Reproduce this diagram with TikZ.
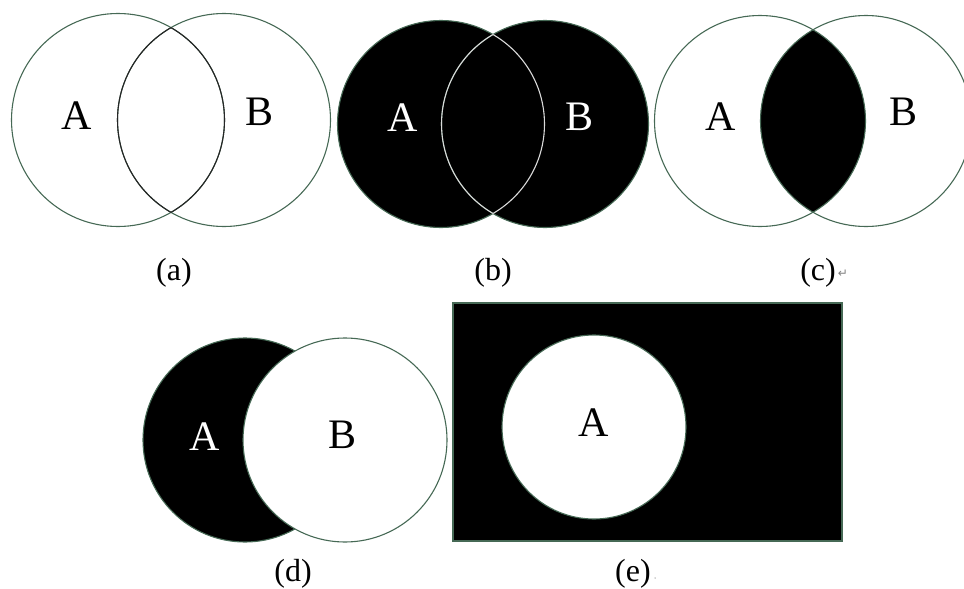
\documentclass[tikz,border=0pt]{standalone}
\usepackage{fontspec}
\setmainfont{Liberation Serif}
\newfontfamily\symfont{DejaVu Sans}
\usetikzlibrary{positioning}
\definecolor{rim}{RGB}{70,105,85}

\begin{document}
\begin{tikzpicture}[x=1pt, y=-1pt,
    every node/.style={inner sep=0pt},
    lbl/.style={font=\fontsize{42}{48}\selectfont},
    captxt/.style={font=\fontsize{32}{36}\selectfont},
    rimline/.style={draw=rim, line width=1.1pt}]
    \useasboundingbox (0,0) rectangle (964,589);
    \clip (0,0) rectangle (964,589);

    % (a) A und B
    \draw[rimline] (118,120) circle (106.5);
    \draw[rimline] (224,120) circle (106.5);
    \begin{scope}
        \clip (118,120) circle (106.5);
        \draw[black!85, line width=1.1pt] (224,120) circle (106.5);
    \end{scope}
    \begin{scope}
        \clip (224,120) circle (106.5);
        \draw[black!85, line width=1.1pt] (118,120) circle (106.5);
    \end{scope}
    \node[lbl] (aA) at (77,116) {A};
    \node[lbl] (aB) at (260,112) {B};
    \node[captxt] (capa) at (174,273) {(a)};

    % (b) A oder B
    \filldraw[rimline, fill=black] (441,124) circle (103.5);
    \filldraw[rimline, fill=black] (545,124) circle (103.5);
    \begin{scope}
        \clip (441,124) circle (103.5);
        \draw[white!85!black, line width=1.1pt] (545,124) circle (103.5);
    \end{scope}
    \begin{scope}
        \clip (545,124) circle (103.5);
        \draw[white!85!black, line width=1.1pt] (441,124) circle (103.5);
    \end{scope}
    \node[lbl, text=white] (bA) at (403,118) {A};
    \node[lbl, text=white] (bB) at (580,117) {B};
    \node[captxt] (capb) at (493,273) {(b)};

    % (c) Schnitt
    \begin{scope}
        \clip (760,121) circle (105.5);
        \fill[black] (866,121) circle (105.5);
    \end{scope}
    \draw[rimline] (760,121) circle (105.5);
    \draw[rimline] (866,121) circle (105.5);
    \node[lbl] (cA) at (721,117) {A};
    \node[lbl] (cB) at (903,112) {B};
    \node[captxt] (capc) at (818,273) {(c)};
    \node[font=\symfont\fontsize{12}{12}\selectfont, text=gray] (retc) at (843,274) {↵};

    % (d) Differenz
    \filldraw[rimline, fill=black] (245,440) circle (102);
    \filldraw[rimline, fill=white] (345,440) circle (102);
    \node[lbl, text=white] (dA) at (205,437) {A};
    \node[lbl] (dB) at (343,435) {B};
    \node[captxt] (capd) at (293,574) {(d)};

    % (e) Komplement
    \filldraw[rimline, fill=black] (453,303) rectangle (842,541);
    \filldraw[rimline, fill=white] (594,427) circle (92);
    \node[lbl] (eA) at (594,423) {A};
    \node[captxt] (cape) at (633,574) {(e)};
    \node[circle, fill=gray!70, minimum size=1.5pt] (dote) at (655,578) {};
\end{tikzpicture}
\end{document}
